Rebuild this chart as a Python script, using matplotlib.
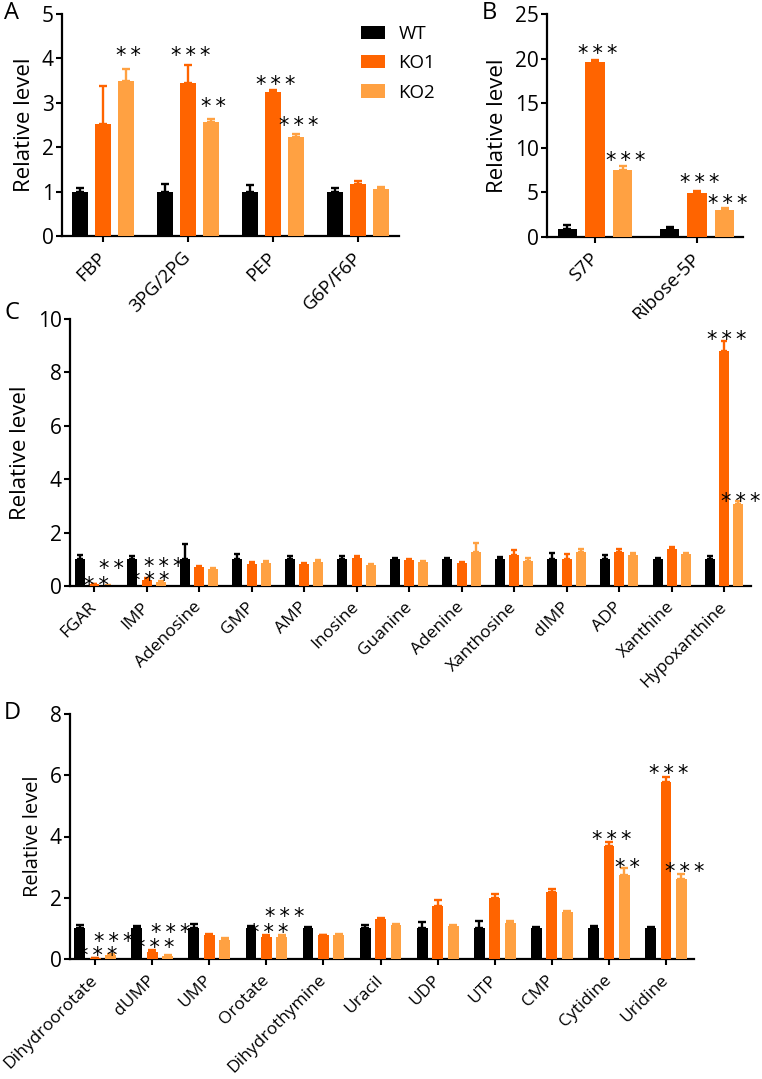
import numpy as np
import matplotlib
matplotlib.use("Agg")
import matplotlib.pyplot as plt
from matplotlib.patches import Patch

plt.rcParams["font.family"] = ["Open Sans", "DejaVu Sans"]

## colours for the three genotypes
series_names = ["WT", "KO1", "KO2"]
series_colors = ["#000000", "#ff6400", "#ffa142"]

## panel A - glycolysis
cats_a = ["FBP", "3PG/2PG", "PEP", "G6P/F6P"]
wt_a = [1.0, 1.0, 1.0, 1.0]
wt_a_err = [0.07, 0.18, 0.14, 0.08]
ko1_a = [2.53, 3.44, 3.25, 1.16]
ko1_a_err = [0.84, 0.42, 0.03, 0.09]
ko2_a = [3.50, 2.57, 2.24, 1.06]
ko2_a_err = [0.25, 0.06, 0.06, 0.05]
stars_a = [(0, 2, "**", 4.19), (1, 1, "***", 4.19), (1, 2, "**", 3.04),
           (2, 1, "***", 3.55), (2, 2, "***", 2.62)]

## panel B - pentose phosphate
cats_b = ["S7P", "Ribose-5P"]
wt_b = [0.93, 0.92]
wt_b_err = [0.37, 0.15]
ko1_b = [19.6, 4.96]
ko1_b_err = [0.25, 0.15]
ko2_b = [7.5, 3.0]
ko2_b_err = [0.5, 0.3]
stars_b = [(0, 1, "***", 21.2), (0, 2, "***", 9.2), (1, 1, "***", 6.8), (1, 2, "***", 4.4)]

## panel C - purines
cats_c = ["FGAR", "IMP", "Adenosine", "GMP", "AMP", "Inosine", "Guanine", "Adenine",
          "Xanthosine", "dIMP", "ADP", "Xanthine", "Hypoxanthine"]
wt_c = [1.0] * 13
wt_c_err = [0.16, 0.11, 0.57, 0.2, 0.11, 0.14, 0.04, 0.04, 0.07, 0.24, 0.15, 0.03, 0.13]
ko1_c = [0.07, 0.23, 0.70, 0.81, 0.84, 1.05, 0.99, 0.86, 1.16, 1.0, 1.26, 1.39, 8.79]
ko1_c_err = [0.02, 0.06, 0.04, 0.09, 0.04, 0.06, 0.03, 0.04, 0.17, 0.2, 0.13, 0.06, 0.4]
ko2_c = [0.01, 0.14, 0.63, 0.85, 0.89, 0.77, 0.91, 1.26, 0.92, 1.29, 1.16, 1.19, 3.08]
ko2_c_err = [0.01, 0.04, 0.04, 0.1, 0.1, 0.05, 0.04, 0.34, 0.12, 0.1, 0.07, 0.04, 0.09]
stars_c = [(0, 1, "**", 0.25), (0, 2, "**", 0.86), (1, 1, "***", 0.41), (1, 2, "***", 0.93),
           (12, 1, "***", 9.44), (12, 2, "***", 3.38)]

## panel D - pyrimidines
cats_d = ["Dihydroorotate", "dUMP", "UMP", "Orotate", "Dihydrothymine", "Uracil",
          "UDP", "UTP", "CMP", "Cytidine", "Uridine"]
wt_d = [1.0] * 11
wt_d_err = [0.12, 0.07, 0.14, 0.07, 0.06, 0.12, 0.2, 0.25, 0.04, 0.08, 0.03]
ko1_d = [0.02, 0.23, 0.79, 0.73, 0.77, 1.30, 1.73, 1.98, 2.19, 3.70, 5.78]
ko1_d_err = [0.01, 0.05, 0.04, 0.04, 0.03, 0.05, 0.2, 0.14, 0.1, 0.11, 0.17]
ko2_d = [0.12, 0.09, 0.62, 0.73, 0.78, 1.10, 1.07, 1.19, 1.54, 2.74, 2.61]
ko2_d_err = [0.04, 0.04, 0.05, 0.04, 0.03, 0.05, 0.05, 0.04, 0.04, 0.24, 0.15]
stars_d = [(0, 1, "***", 0.30), (0, 2, "***", 0.76), (1, 1, "***", 0.56), (1, 2, "***", 1.06),
           (3, 1, "***", 1.06), (3, 2, "***", 1.58), (9, 1, "***", 4.1), (9, 2, "**", 3.17),
           (10, 1, "***", 6.23), (10, 2, "***", 3.05)]

W, H = 762, 1079
fig = plt.figure(figsize=(W / 100, H / 100), dpi=100)

def px_axes(left, top, right, bottom):
    return fig.add_axes([left / W, 1 - bottom / H, (right - left) / W, (bottom - top) / H])

offsets = [-0.27, 0.0, 0.27]
STAR_FS = 15

def draw_panel(ax, cats, series, errs, stars, xlim, ylim, yticks, cap, xfs, ylfs):
    x = np.arange(len(cats))
    for off, vals, err, col in zip(offsets, series, errs, series_colors):
        ax.errorbar(x + off, vals, yerr=[np.zeros(len(vals)), err], fmt="none", ecolor=col,
                    elinewidth=1.7, capsize=cap, capthick=1.7, zorder=2)
        ax.bar(x + off, vals, width=0.19, color=col, zorder=3)
    for gi, si, lab, y in stars:
        ## spread the asterisks a little and drop them so their centre lands on y
        txt = "\u2009".join(lab)
        ax.annotate(txt, xy=(gi + offsets[si], y), xytext=(2, -0.59 * STAR_FS),
                    textcoords="offset points", ha="center", va="baseline",
                    fontsize=STAR_FS, family="DejaVu Sans", zorder=5)
    ax.set_xlim(xlim)
    ax.set_ylim(ylim)
    ax.set_yticks(yticks)
    ax.set_xticks(x)
    ax.set_xticklabels(cats, rotation=45, ha="right", va="center", rotation_mode="anchor",
                       fontsize=xfs)
    ax.tick_params(axis="y", labelsize=15, length=4, width=1.5, pad=2)
    ax.tick_params(axis="x", length=4.5, width=1.5, pad=9)
    for s in ["top", "right"]:
        ax.spines[s].set_visible(False)
    for s in ["left", "bottom"]:
        ax.spines[s].set_linewidth(1.6)
    ax.set_ylabel("Relative level", fontsize=ylfs, labelpad=5)

ax_a = px_axes(62, 14, 399, 236)
draw_panel(ax_a, cats_a, [wt_a, ko1_a, ko2_a], [wt_a_err, ko1_a_err, ko2_a_err], stars_a,
           (-0.482, 3.48), (0, 5), range(0, 6), 3, 13.5, 16)

ax_b = px_axes(547, 14, 743, 237)
draw_panel(ax_b, cats_b, [wt_b, ko1_b, ko2_b], [wt_b_err, ko1_b_err, ko2_b_err], stars_b,
           (-0.47, 1.45), (0, 25), range(0, 26, 5), 3, 13.5, 16)

ax_c = px_axes(70, 319, 751, 586)
draw_panel(ax_c, cats_c, [wt_c, ko1_c, ko2_c], [wt_c_err, ko1_c_err, ko2_c_err], stars_c,
           (-0.457, 12.51), (0, 10), range(0, 11, 2), 1.9, 12.5, 16)

ax_d = px_axes(70, 714, 694, 959)
draw_panel(ax_d, cats_d, [wt_d, ko1_d, ko2_d], [wt_d_err, ko1_d_err, ko2_d_err], stars_d,
           (-0.44, 10.49), (0, 8), range(0, 9, 2), 2.6, 12.5, 14.5)

## legend
handles = [Patch(facecolor=c, edgecolor="none") for c in series_colors]
fig.legend(handles, series_names, loc="upper left", bbox_to_anchor=(361 / W, 1 - 25 / H),
           frameon=False, fontsize=13.5, handlelength=1.3, handleheight=0.7,
           handletextpad=0.7, labelspacing=0.6, borderpad=0, borderaxespad=0)

## panel letters
for lab, xp, yp in [("A", 4, 1), ("B", 482, 1), ("C", 4, 301), ("D", 4, 701)]:
    fig.text(xp / W, 1 - yp / H, lab, fontsize=17, ha="left", va="top")

fig.savefig("out.png", dpi=100)
